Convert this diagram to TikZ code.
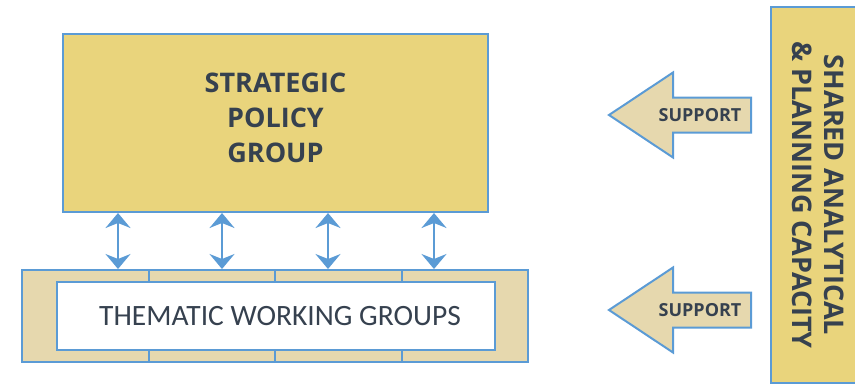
\documentclass[tikz,border=0pt]{standalone}
\usepackage{fontspec}
\setmainfont{Carlito}
\newfontfamily\headfont{Open Sans}
\usepackage{tikz}
\usetikzlibrary{arrows.meta,positioning}
\definecolor{lineblue}{RGB}{91,155,213}
\definecolor{goldfill}{RGB}{233,212,124}
\definecolor{tanfill}{RGB}{230,216,174}
\definecolor{textdark}{RGB}{54,65,79}
\tikzset{>={Stealth[length=15pt,width=25pt,inset=5pt]}}
\tikzset{group box/.style={draw=lineblue,line width=2pt,fill=goldfill,text=textdark,inner sep=0pt,
              font=\headfont\bfseries\fontsize{27}{35}\selectfont,align=center,text depth=10pt},
         cell box/.style={draw=lineblue,line width=2pt,fill=tanfill,inner sep=0pt,
              minimum width=126.5pt,minimum height=92pt},
         twg box/.style={draw=lineblue,line width=1.2pt,fill=white,text=textdark,inner sep=0pt,
              minimum width=438pt,minimum height=68pt,font=\fontsize{29.5}{33}\selectfont},
         link/.style={draw=lineblue,line width=2.2pt,<->},
         support arrow/.style={draw=lineblue,line width=2pt,fill=tanfill},
         support text/.style={text=textdark,font=\headfont\bfseries\fontsize{18}{22}\selectfont,inner sep=0pt},
         panel box/.style={draw=lineblue,line width=2pt,fill=goldfill,inner sep=0pt},
            }
\begin{document}
\begin{tikzpicture}[x=1pt,y=-1pt]
    \useasboundingbox (0,0) rectangle (855,384);

    \node[group box,minimum width=425pt,minimum height=178pt] (spg) at (275.5,123) {STRATEGIC\\POLICY\\GROUP};

    \foreach \i in {1,...,4}
        \node[cell box] (cell\i) at ({22+126.5*(\i-0.5)},316) {};
    \node[twg box] (twg) at (276,316) {\hspace{8pt}THEMATIC WORKING GROUPS};

    \foreach \x in {118,222,328,434}
        \path[link] (spg.south -| \x,0) -- (cell1.north -| \x,0);

    \foreach \y/\n in {115/1,310/2} {
        \draw[support arrow] (609,\y) -- (673,{\y-42.5}) -- (673,{\y-17.5}) -- (751,{\y-17.5})
            -- (751,{\y+17.5}) -- (673,{\y+17.5}) -- (673,{\y+42.5}) -- cycle;
        \node[support text] (sup\n) at (700,\y) {SUPPORT};
    }

    \node[panel box,minimum width=87pt,minimum height=376pt] (panel) at (814.5,195) {};
    \node[text=textdark,font=\headfont\bfseries\fontsize{27}{32}\selectfont,align=center,rotate=-90] (sapc)
        at (818,195) {SHARED ANALYTICAL\\\& PLANNING CAPACITY};

\end{tikzpicture}
\end{document}
